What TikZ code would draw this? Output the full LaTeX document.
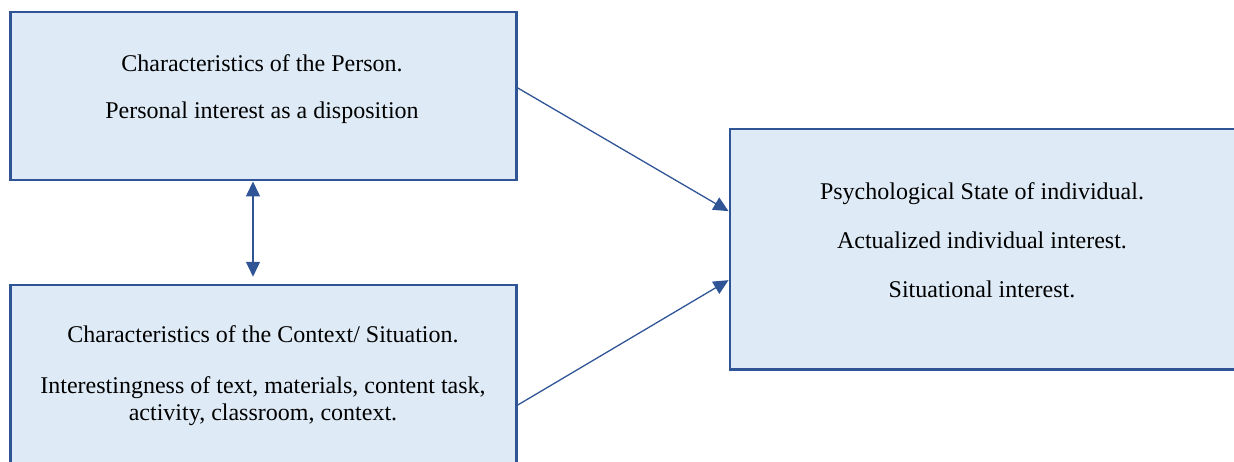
\documentclass[tikz,border=0pt]{standalone}
\usepackage{fontspec}
\setmainfont{Liberation Serif}
\usepackage{xcolor}
\definecolor{primary}{RGB}{47, 85, 151}
\definecolor{lightbg}{RGB}{222, 235, 247}
\usetikzlibrary{arrows.meta,positioning}

\begin{document}
\begin{tikzpicture}[
  x=1pt, y=-1pt,
  >={Triangle[length=15pt, width=14pt]},
  box/.style={draw=primary, fill=lightbg, line width=2.5pt, minimum width=506pt, anchor=north west, inner sep=0pt},
  txt/.style={align=center, anchor=north, inner sep=0pt, font=\fontsize{24}{26.7}\selectfont},
  arrow/.style={->, line width=1.3pt, color=primary}
]
\useasboundingbox (0,0) rectangle (1234,461);
\clip (0,0) rectangle (1234,461);

% boxes
\node[box, minimum height=168pt] (person) at (9.25,10.95) {};
\node[box, minimum height=250pt] (context) at (9.25,283.75) {};
\node[box, minimum height=240.7pt] (state) at (728.55,127.55) {};

% texts
\node[txt] (persontxt) at (262,54.5) {Characteristics of the Person.\\[20pt]
  Personal interest as a disposition};
\node[txt] (contexttxt) at (263,325.2) {Characteristics of the Context/ Situation.\\[24.9pt]
  Interestingness of text, materials, content task,\\ activity, classroom, context.};
\node[txt] (statetxt) at (982,181.9) {Psychological State of individual.\\[22.3pt]
  Actualized individual interest.\\[22.3pt] Situational interest.};

% connectors
\draw[arrow] ([yshift=8.25pt]person.east) -- ([yshift=38pt]state.west);
\draw[arrow] ([yshift=-121.25pt]context.north east) -- ([yshift=-31pt]state.west);
\draw[arrow, <->, shorten >=7pt] ([xshift=-10.5pt]person.south) -- ([xshift=-10.5pt]context.north);
\end{tikzpicture}
\end{document}
